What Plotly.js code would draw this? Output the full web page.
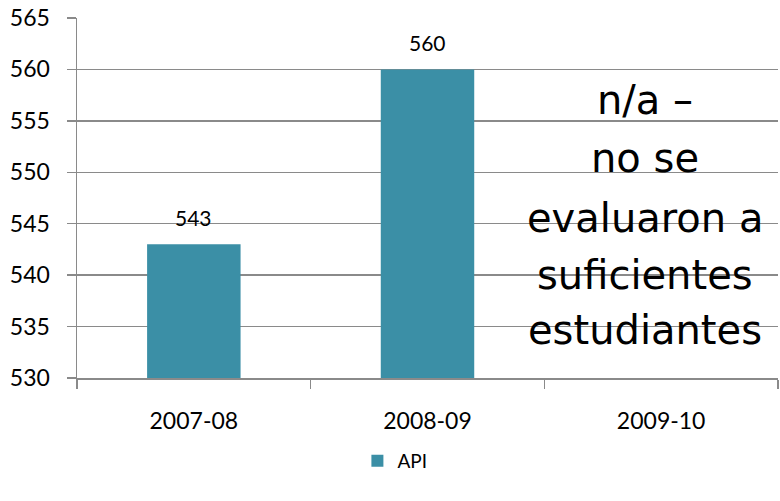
<!DOCTYPE html>
<html>
<head>
<meta charset="utf-8">
<script src="https://cdn.plot.ly/plotly-3.0.1.min.js"></script>
<style>html,body{margin:0;padding:0;background:#fff;}#chart{width:780px;height:501px;}</style>
</head>
<body>
<div id="chart"></div>
<script>
const categories = ["2007-08", "2008-09", "2009-10"];
const apiValues = [543, 560, null];
const seriesName = "API";
const naLines = ["n/a –", "no se", "evaluaron a", "suficientes", "estudiantes"];
const naLineValues = [557.0, 551.4, 545.6, 540.0, 534.7];
const yTicks = [530, 535, 540, 545, 550, 555, 560, 565];

const barColor = "#3b8fa6";
const gridColor = "#8a8a8a";
const tickFont = {family: "Lato, 'Open Sans', sans-serif", size: 23, color: "#000"};

const annotations = [];
categories.forEach((c, i) => {
  if (apiValues[i] !== null) {
    annotations.push({
      x: c, y: apiValues[i], xref: "x", yref: "y",
      text: String(apiValues[i]), showarrow: false,
      yanchor: "bottom", yshift: 12,
      font: {family: "Lato, 'Open Sans', sans-serif", size: 21, color: "#000"}
    });
  }
});
naLines.forEach((t, i) => {
  annotations.push({
    x: 0.81, xref: "paper", y: naLineValues[i], yref: "y",
    text: t, showarrow: false, xanchor: "center", yanchor: "middle",
    font: {family: "'DejaVu Sans', sans-serif", size: 40, color: "#000"}
  });
});

const data = [{
  type: "bar",
  x: categories,
  y: apiValues,
  name: seriesName,
  marker: {color: barColor},
  showlegend: true,
  hoverinfo: "none"
}];

const layout = {
  width: 780, height: 501,
  margin: {l: 77, r: 2, t: 18, b: 123},
  paper_bgcolor: "#fff", plot_bgcolor: "#fff",
  bargap: 0.6,
  xaxis: {
    type: "category",
    tickson: "boundaries",
    ticks: "outside", ticklen: 9, tickcolor: gridColor, tickwidth: 1.5,
    showline: true, linecolor: gridColor, linewidth: 1.5,
    showgrid: false,
    tickfont: tickFont,
    ticklabelstandoff: 22
  },
  yaxis: {
    range: [530, 565],
    tickvals: yTicks,
    ticks: "outside", ticklen: 9, tickcolor: gridColor, tickwidth: 1.5,
    showline: true, linecolor: gridColor, linewidth: 1.5,
    showgrid: true, gridcolor: gridColor, gridwidth: 1.5,
    zeroline: false,
    tickfont: tickFont,
    ticklabelstandoff: 12
  },
  legend: {
    orientation: "h", x: 0.40, xanchor: "left", y: -0.23, yanchor: "middle",
    font: {family: "Lato, 'Open Sans', sans-serif", size: 19, color: "#000"}
  },
  annotations: annotations
};

Plotly.newPlot("chart", data, layout, {staticPlot: true});
</script>
</body>
</html>
